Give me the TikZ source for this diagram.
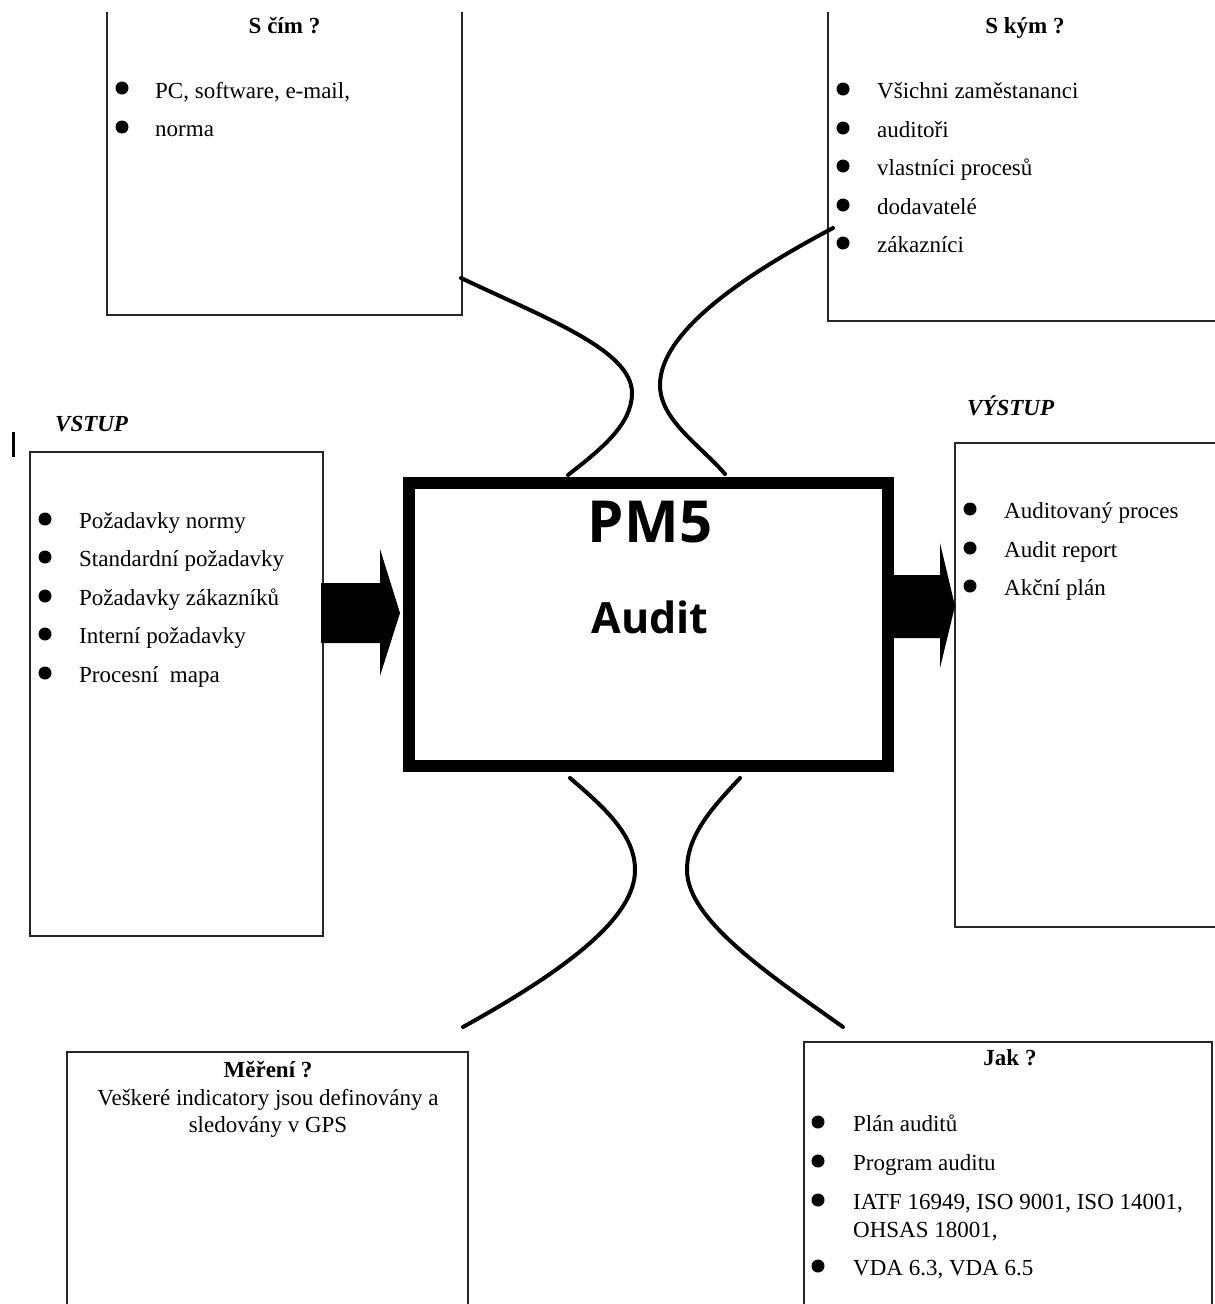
\documentclass[tikz,border=0pt]{standalone}
\usepackage{fontspec}
\setmainfont{Liberation Serif}
\newfontfamily\boxfont{Open Sans}
\usepackage{tikz}
\usetikzlibrary{calc}

\tikzset{
	box/.style={draw=black!85, line width=1.5pt},
	curve/.style={line width=4pt, line cap=round},
	dot/.style={circle, fill=black, inner sep=0pt, minimum size=13pt},
	item/.style={anchor=base west, inner sep=0pt, font=\fontsize{23}{28}\selectfont},
	line/.style={anchor=base, inner sep=0pt, font=\fontsize{23}{28}\selectfont},
	head/.style={anchor=base, inner sep=0pt, font=\fontsize{23}{28}\selectfont\bfseries},
	title/.style={anchor=base west, inner sep=0pt, font=\fontsize{23}{28}\selectfont\bfseries\itshape}
}

\begin{document}
\begin{tikzpicture}[x=1pt, y=-1pt]
	\useasboundingbox (0,0) rectangle (1215,1304);
	
	\coordinate (scim-c) at (461,278);
	\coordinate (skym-c) at (833,228);
	\coordinate (mer-c) at (463,1027);
	\coordinate (jak-c) at (843,1027);
	\coordinate (top-l) at (568,475);
	\coordinate (top-r) at (725,474);
	\coordinate (bot-l) at (570,778);
	\coordinate (bot-r) at (740,778);
	
	\draw[box] (107,12) -- (107,315) -- (462,315) -- (462,12);
	\draw[box] (828,12) -- (828,321) -- (1215,321);
	\draw[box] (30,452) rectangle (323,936);
	\draw[box] (1215,443) -- (955,443) -- (955,927) -- (1215,927);
	\draw[box] (67,1304) -- (67,1052) -- (468,1052) -- (468,1304);
	\draw[box] (804,1304) -- (804,1042) -- (1212,1042) -- (1212,1304);
	
	\node[draw, line width=12pt, inner sep=0pt, minimum width=479pt, minimum height=283pt] (pm5) at (648.5,624.5) {};
	\node[anchor=base, inner sep=0pt, font=\boxfont\bfseries\fontsize{58}{60}\selectfont] (pm5-t) at (650,542) {PM5};
	\node[anchor=base, inner sep=0pt, font=\boxfont\bfseries\fontsize{43}{50}\selectfont] (audit) at (650,633) {Audit};
	
	% block arrows in and out
	\fill (321,583) -- (380,583) -- (380,549) -- (400,613) -- (380,676) -- (380,643) -- (321,643) -- cycle;
	\fill (894,575) -- (940,575) -- (940,543) -- (955,606) -- (940,668) -- (940,638) -- (894,638) -- cycle;
	
	\draw[curve] (scim-c) .. controls (545,318) and (632,350) .. (632,393) .. controls (632,425) and (600,450) .. (top-l);
	\draw[curve] (skym-c) .. controls (750,272) and (660,330) .. (660,385) .. controls (660,420) and (700,445) .. (top-r);
	\draw[curve] (bot-l) .. controls (605,808) and (635,835) .. (635,870) .. controls (635,915) and (575,965) .. (mer-c);
	\draw[curve] (bot-r) .. controls (712,808) and (687,835) .. (687,870) .. controls (687,920) and (770,975) .. (jak-c);
	
	\draw[line width=3pt] (13,432) -- (13,457);
	
	\node[head] (scim) at (284.5,33) {S čím ?};
	\node[dot] (scim-d1) at (122,88) {};
	\node[item] (scim-1) at (155,98) {PC, software, e-mail,};
	\node[dot] (scim-d2) at (122,127) {};
	\node[item] (scim-2) at (155,136) {norma};
	
	\node[head] (skym) at (1025,33) {S kým ?};
	\node[dot] (skym-d1) at (843,89) {};
	\node[item] (skym-1) at (877,98) {Všichni zaměstananci};
	\node[dot] (skym-d2) at (843,128) {};
	\node[item] (skym-2) at (877,137) {auditoři};
	\node[dot] (skym-d3) at (843,166) {};
	\node[item] (skym-3) at (877,175) {vlastníci procesů};
	\node[dot] (skym-d4) at (843,205) {};
	\node[item] (skym-4) at (877,214) {dodavatelé};
	\node[dot] (skym-d5) at (843,243) {};
	\node[item] (skym-5) at (877,252) {zákazníci};
	
	\node[title] (vstup) at (55,431) {VSTUP};
	\node[dot] (vstup-d1) at (45,519) {};
	\node[item] (vstup-1) at (79,528) {Požadavky normy};
	\node[dot] (vstup-d2) at (45,557) {};
	\node[item] (vstup-2) at (79,566) {Standardní požadavky};
	\node[dot] (vstup-d3) at (45,596) {};
	\node[item] (vstup-3) at (79,605) {Požadavky zákazníků};
	\node[dot] (vstup-d4) at (45,634) {};
	\node[item] (vstup-4) at (79,643) {Interní požadavky};
	\node[dot] (vstup-d5) at (45,673) {};
	\node[item] (vstup-5) at (79,682) {Procesní\ \ mapa};
	
	\node[title] (vystup) at (967,415) {VÝSTUP};
	\node[dot] (vystup-d1) at (970,509) {};
	\node[item] (vystup-1) at (1004,518) {Auditovaný proces};
	\node[dot] (vystup-d2) at (970,548) {};
	\node[item] (vystup-2) at (1004,557) {Audit report};
	\node[dot] (vystup-d3) at (970,586) {};
	\node[item] (vystup-3) at (1004,595) {Akční plán};
	
	\node[head] (mer) at (268,1077) {Měření ?};
	\node[line] (mer-1) at (268,1105) {Veškeré indicatory jsou definovány a};
	\node[line] (mer-2) at (268,1132) {sledovány v GPS};
	
	\node[head] (jak) at (1010,1065) {Jak ?};
	\node[dot] (jak-d1) at (818,1122) {};
	\node[item] (jak-1) at (853,1131) {Plán auditů};
	\node[dot] (jak-d2) at (818,1161) {};
	\node[item] (jak-2) at (853,1170) {Program auditu};
	\node[dot] (jak-d3) at (818,1200) {};
	\node[item] (jak-3) at (853,1209) {IATF 16949, ISO 9001, ISO 14001,};
	\node[item] (jak-3b) at (853,1237) {OHSAS 18001,};
	\node[dot] (jak-d4) at (818,1266) {};
	\node[item] (jak-4) at (853,1275) {VDA 6.3, VDA 6.5};
	
\end{tikzpicture}
\end{document}
